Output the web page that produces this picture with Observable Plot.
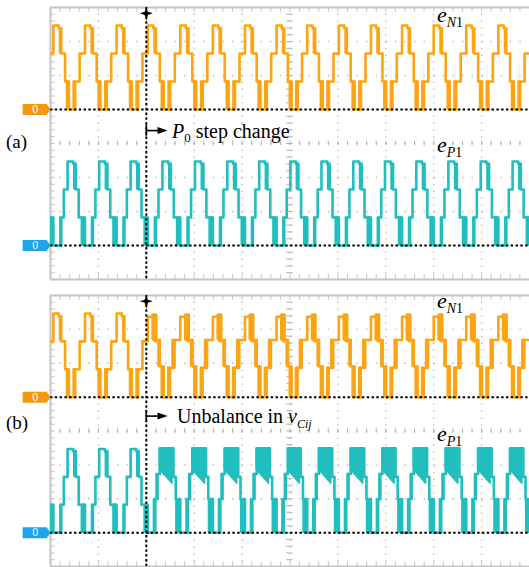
<!DOCTYPE html>
<html><head><meta charset="utf-8">
<script src="https://cdn.jsdelivr.net/npm/d3@7"></script>
<script src="https://cdn.jsdelivr.net/npm/@observablehq/plot@0.6"></script>
<style>
body{margin:0;background:#fff;}
#wrap{position:relative;width:529px;height:567px;overflow:hidden;}
#wrap svg{display:block;}
.lbl{position:absolute;font-family:'Liberation Serif',Times,'Times New Roman','DejaVu Serif',serif;color:#000;white-space:nowrap;line-height:1;}
.it{font-style:italic;}
.sb{position:relative;}
</style></head><body><div id="wrap"></div>
<script>
// ---- data (time in divisions, levels in cell-voltage units) ----
const cycleStarts = [-0.61, 0.06, 0.72, 1.38, 2.03, 2.71, 3.39, 4.06, 4.72, 5.36, 6.02, 6.69, 7.34, 8.00, 8.68, 9.35, 10.01];
const triggerTime = 2.0;
// [phase, level]  (step-after)
const eN1_a_steps = [[0.00,3.00],[0.17,2.90],[0.25,2.00],[0.37,1.00],[0.49,0.00],[0.69,1.00],[0.83,2.00]];
const eP1_a_steps = [[0.00,0.00],[0.25,1.00],[0.33,2.00],[0.45,3.00],[0.63,2.92],[0.71,2.00],[0.80,1.00]];
const eN1_b_steps = [[0.00,2.88],[0.20,2.95],[0.26,2.05],[0.37,1.10],[0.49,0.00],[0.68,1.05],[0.82,2.05]];
const eP1_b_steps = [[0.00,0.00],[0.23,1.20],[0.30,2.10],[0.37,3.02],[0.79,2.00],[0.86,1.20]];
// fast switching envelopes: [phaseStart, phaseEnd, lowStart, lowEnd, high]
const eN1_a_bursts = [[0.43,0.49,0,0,1.0],[0.64,0.70,0,0,1.0],[0.21,0.25,2.0,2.0,2.9]];
const eP1_a_bursts = [[0.66,0.72,2.0,2.0,2.92],[0.90,1.00,0,0,1.0],[0.22,0.26,0,0,1.0]];
const eN1_b_bursts = [[0.15,0.27,2.05,1.95,2.95],[0.33,0.40,1.1,1.1,2.05],[0.43,0.50,0,0,1.1],[0.63,0.70,0,0,1.05],[0.76,0.84,1.05,1.05,2.05]];
const eP1_b_bursts = [[0.37,0.76,2.25,1.75,3.02],[0.19,0.25,0,0,1.2],[0.88,0.98,0,0,1.2],[0.27,0.32,1.2,1.2,2.1]];
const zeroN = 5, zeroP = 1;          // channel zero position (divisions)
const levelDiv = 28/34;              // one level in divisions
const colN = "#FBA414", colP = "#22BEBE", markN = "#F5980F", markP = "#1CA6E8";

function expand(pa, pb, sw){
  const pts=[];
  for(let i=0;i<cycleStarts.length-1;i++){
    const s=cycleStarts[i], T=cycleStarts[i+1]-s;
    const pat=(pb && s>=sw)?pb:pa;
    for(const [p,v] of pat) pts.push({t:s+p*T, v});
  }
  pts.push({t:cycleStarts[cycleStarts.length-1], v:pts[pts.length-1].v});
  return pts;
}
function expandB(ba, bb, sw){
  const pts=[]; let id=0;
  for(let i=0;i<cycleStarts.length-1;i++){
    const s=cycleStarts[i], T=cycleStarts[i+1]-s;
    const pat=(bb && s>=sw)?bb:ba;
    for(const [p0,p1,l0,l1,h] of pat){ pts.push({t:s+p0*T, lo:l0, hi:h, z:id},{t:s+p1*T, lo:l1, hi:h, z:id}); id++; }
  }
  return pts;
}
const minorX = d3.range(0, 10.001, 0.2);
const minorY = d3.range(0, 8.001, 0.2);
const star4 = {draw(c){c.moveTo(0,-6);c.lineTo(1.6,-1.6);c.lineTo(6.5,0);c.lineTo(1.6,1.6);c.lineTo(0,7.5);c.lineTo(-1.6,1.6);c.lineTo(-6.5,0);c.lineTo(-1.6,-1.6);c.closePath();}};
const pent = {draw(c){c.moveTo(-14,-5.5);c.lineTo(10,-5.5);c.lineTo(14,0);c.lineTo(10,5.5);c.lineTo(-14,5.5);c.closePath();}};
const head = {draw(c){c.moveTo(-5,-3.5);c.lineTo(5,0);c.lineTo(-5,3.5);c.closePath();}};
const serif = "'Liberation Serif', Times, 'Times New Roman', 'DejaVu Serif', serif";

function panel(h, mb, nSteps, pSteps, nBursts, pBursts, arrowY){
  const N = expand(eN1_a_steps, nSteps, triggerTime);
  const P = expand(eP1_a_steps, pSteps, triggerTime);
  const NB = expandB(eN1_a_bursts, nBursts, triggerTime);
  const PB = expandB(eP1_a_bursts, pBursts, triggerTime);
  const g="#c4c4c4", gd="#b5b5b5";
  return Plot.plot({
    width:529, height:h, marginLeft:50, marginRight:0, marginTop:7, marginBottom:mb,
    x:{domain:[0,10], axis:null}, y:{domain:[0,8], axis:null},
    style:{background:"transparent", overflow:"visible", fontFamily:serif},
    marks:[
      Plot.ruleY([1,2,3,4,5,6,7], {stroke:gd, strokeWidth:1.3, strokeDasharray:"1.3,8.28"}),
      Plot.ruleX([1,2,3,4,5,6,7,8,9], {stroke:gd, strokeWidth:1.3, strokeDasharray:"1.3,5.5"}),
      Plot.ruleX(minorX, {y1:3.93, y2:4.07, stroke:gd, strokeWidth:1}),
      Plot.ruleY(minorY, {x1:4.93, x2:5.07, stroke:gd, strokeWidth:1}),
      Plot.ruleY(minorY, {x1:0, x2:0.1, stroke:g, strokeWidth:1}),
      Plot.ruleX(minorX, {y1:7.86, y2:8, stroke:g, strokeWidth:1}),
      Plot.ruleX(minorX, {y1:0, y2:0.14, stroke:g, strokeWidth:1}),
      Plot.ruleX([0], {stroke:g, strokeWidth:2}),
      Plot.ruleY([0,8], {stroke:g, strokeWidth:2}),
      Plot.area(NB, {x1:"t", y1:d=>zeroN+d.lo*levelDiv, y2:d=>zeroN+d.hi*levelDiv, z:"z", fill:colN, stroke:colN, strokeWidth:1.5, clip:true}),
      Plot.area(PB, {x1:"t", y1:d=>zeroP+d.lo*levelDiv, y2:d=>zeroP+d.hi*levelDiv, z:"z", fill:colP, stroke:colP, strokeWidth:1.5, clip:true}),
      Plot.line(N, {x:"t", y:d=>zeroN+d.v*levelDiv, curve:"step-after", stroke:colN, strokeWidth:2.6, clip:true}),
      Plot.line(P, {x:"t", y:d=>zeroP+d.v*levelDiv, curve:"step-after", stroke:colP, strokeWidth:2.6, clip:true}),
      Plot.ruleY([zeroN, zeroP], {stroke:"#000", strokeWidth:2, strokeDasharray:"2.4,2.4"}),
      Plot.ruleX([triggerTime], {stroke:"#000", strokeWidth:2, strokeDasharray:"2.4,2.4"}),
      Plot.dot([{t:triggerTime, y:7.83}], {x:"t", y:"y", symbol:star4, fill:"#000", stroke:"none"}),
      Plot.dot([{t:-0.29, y:zeroN, c:markN},{t:-0.29, y:zeroP, c:markP}], {x:"t", y:"y", symbol:pent, fill:"c", stroke:"none"}),
      Plot.text([{t:-0.32, y:zeroN},{t:-0.32, y:zeroP}], {x:"t", y:"y", text:()=>"0", fill:"#fff", fontSize:12, fontFamily:serif}),
      Plot.ruleX([{t:triggerTime, y:arrowY}], {x:"t", y1:d=>d.y-0.17, y2:d=>d.y+0.17, stroke:"#000", strokeWidth:1.6}),
      Plot.link([{t:triggerTime, y:arrowY}], {x1:"t", x2:d=>d.t+0.25, y1:"y", y2:"y", stroke:"#000", strokeWidth:1.6}),
      Plot.dot([{t:triggerTime+0.34, y:arrowY}], {x:"t", y:"y", symbol:head, fill:"#000", stroke:"none"})
    ]
  });
}
const wrap = document.getElementById("wrap");
wrap.appendChild(panel(288, 9, null, null, null, null, 4.38));
wrap.appendChild(panel(279, 1, eN1_b_steps, eP1_b_steps, eN1_b_bursts, eP1_b_bursts, 4.44));

function lbl(html, left, top, size){
  const d=document.createElement("div"); d.className="lbl"; d.style.fontFamily=serif; d.style.left=left+"px"; d.style.top=top+"px"; d.style.fontSize=size+"px"; d.innerHTML=html; wrap.appendChild(d);
}
const eLab = (sub)=>`<span class="it">e</span><span class="sb" style="font-size:14px;top:5px"><span class="it">${sub[0]}</span>${sub.slice(1)}</span>`;
lbl("(a)", 6, 132, 19);
lbl("(b)", 6, 413, 19);
lbl(eLab("N1"), 437, 4, 22);
lbl(eLab("P1"), 437, 134, 22);
lbl(eLab("N1"), 437, 290, 22);
lbl(eLab("P1"), 437, 423, 22);
lbl(`<span class="it">P</span><span class="sb" style="font-size:13px;top:4px">0</span> step change`, 172, 121, 20);
lbl(`Unbalance in <span class="it">v</span><span class="sb it" style="font-size:12px;top:5px">Cij</span>`, 177, 406, 20);
</script></body></html>
